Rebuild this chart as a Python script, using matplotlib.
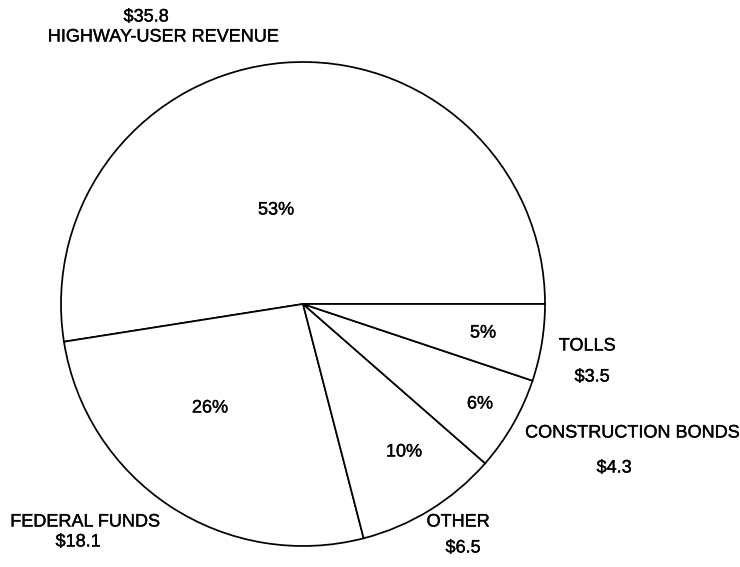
import matplotlib.pyplot as plt
import matplotlib.patheffects as pe

# revenue sources, billions of dollars
categories = ["HIGHWAY-USER REVENUE", "FEDERAL FUNDS", "OTHER", "CONSTRUCTION BONDS", "TOLLS"]
amounts = [35.8, 18.1, 6.5, 4.3, 3.5]
pct_labels = ["53%", "26%", "10%", "6%", "5%"]

# layout (pixel positions, y measured from top)
pie_center = (303, 304)
pie_radius = 242
pct_pos = [(276, 210), (210, 408), (404, 452), (480, 404), (483, 333)]
name_pos = [(163, 37), (85, 522), (458, 522), (632, 433), (587, 346)]
amount_pos = [(146, 17), (78, 542), (463, 548), (614, 468), (592, 377)]

W, H = 740, 567
fig = plt.figure(figsize=(W / 100, H / 100), dpi=100)
ax = fig.add_axes([0, 0, 1, 1])

ax.pie(amounts, startangle=0, counterclock=True,
       center=(pie_center[0], H - pie_center[1]), radius=pie_radius,
       colors=["white"] * len(amounts), frame=True,
       wedgeprops=dict(edgecolor="black", linewidth=1.25))

ax.set_xlim(0, W)
ax.set_ylim(0, H)
ax.set_aspect("equal")
ax.axis("off")

# scanned type looks a bit heavier than a plain regular face
heavy = [pe.withStroke(linewidth=0.25, foreground="black")]
font = dict(family=["Liberation Sans", "DejaVu Sans"], fontsize=13, color="black",
            ha="center", va="center", path_effects=heavy)

for lab, (x, y) in zip(pct_labels, pct_pos):
    ax.text(x, H - y, lab, **font)
for name, (x, y) in zip(categories, name_pos):
    ax.text(x, H - y, name, **font)
for amt, (x, y) in zip(amounts, amount_pos):
    ax.text(x, H - y, f"${amt}", **font)

fig.savefig("out.png", dpi=100)
